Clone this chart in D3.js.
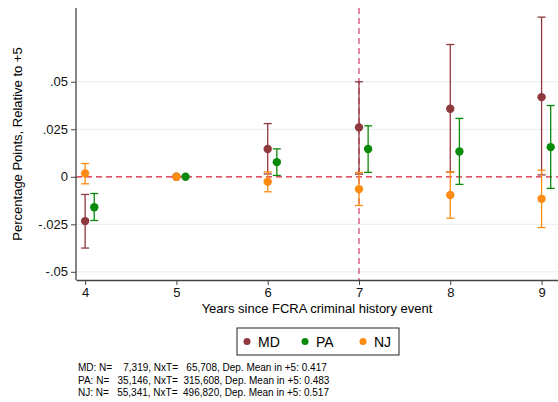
<!DOCTYPE html><html><head><script src="https://cdn.jsdelivr.net/npm/d3@7"></script>
<style>body{margin:0;background:#fff}text{font-family:"Liberation Sans",Arial,sans-serif}</style></head><body>
<svg id="c" width="558" height="402"></svg>
<script>
const years=[4,5,6,7,8,9];
const mdEst=[-0.0233,0,0.0146,0.026,0.0358,0.0419];
const mdLo=[-0.0375,null,0.0015,0.0014,0.0025,0.001];
const mdHi=[-0.0093,null,0.028,0.05,0.0696,0.084];
const paEst=[-0.016,0,0.0077,0.0146,0.0133,0.0156];
const paLo=[-0.023,null,0.0007,0.0023,-0.004,-0.0061];
const paHi=[-0.0088,null,0.0147,0.0268,0.0307,0.0375];
const njEst=[0.0018,0,-0.0026,-0.0065,-0.0096,-0.0116];
const njLo=[-0.0037,null,-0.0079,-0.0151,-0.0218,-0.0267];
const njHi=[0.007,null,0.0026,0.0023,0.0026,0.0035];
const yTicks=[0.05,0.025,0,-0.025,-0.05];
const yTickLabels=[".05",".025","0","-.025","-.05"];
const notes=["MD: N=    7,319, NxT=   65,708, Dep. Mean in +5: 0.417","PA: N=   35,146, NxT=  315,608, Dep. Mean in +5: 0.483","NJ: N=   55,341, NxT=  496,820, Dep. Mean in +5: 0.517"];
const series=[
 {name:"MD",color:"#8f383d",est:mdEst,lo:mdLo,hi:mdHi,off:0},
 {name:"PA",color:"#0a8a0a",est:paEst,lo:paLo,hi:paHi,off:0.1},
 {name:"NJ",color:"#ff8c12",est:njEst,lo:njLo,hi:njHi,off:0}];
const svg=d3.select("#c");
const x=d3.scaleLinear().domain([3.9,9.18]).range([76,558]);
const y=d3.scaleLinear().domain([-0.0543,0.0888]).range([280,8]);
svg.append("g").selectAll("line").data(yTicks.filter(d=>d!==0)).join("line")
 .attr("x1",76).attr("x2",558).attr("y1",d=>y(d)).attr("y2",d=>y(d)).attr("stroke","#e6eded").attr("stroke-width",1);
svg.append("line").attr("x1",x(7)).attr("x2",x(7)).attr("y1",8).attr("y2",280).attr("stroke","#cc4a78").attr("stroke-width",1.3).attr("stroke-dasharray","6,4");
svg.append("line").attr("x1",76).attr("x2",558).attr("y1",y(0)).attr("y2",y(0)).attr("stroke","#d81e3c").attr("stroke-width",1.3).attr("stroke-dasharray","6,4");
series.forEach(s=>{
 const g=svg.append("g");
 years.forEach((yr,i)=>{
  const cx=x(yr+s.off);
  if(s.lo[i]!==null){
   g.append("line").attr("x1",cx).attr("x2",cx).attr("y1",y(s.lo[i])).attr("y2",y(s.hi[i])).attr("stroke",s.color).attr("stroke-width",1.3);
   [s.lo[i],s.hi[i]].forEach(v=>g.append("line").attr("x1",cx-4).attr("x2",cx+4).attr("y1",y(v)).attr("y2",y(v)).attr("stroke",s.color).attr("stroke-width",1.3));
  }
  g.append("circle").attr("cx",cx).attr("cy",y(s.est[i])).attr("r",4.2).attr("fill",s.color);
 });
});
const ya=svg.append("g").attr("transform","translate(76,0)").call(d3.axisLeft(y).tickValues(yTicks).tickFormat((d,i)=>yTickLabels[i]).tickSize(5).tickSizeOuter(0));
const xa=svg.append("g").attr("transform","translate(0,280)").call(d3.axisBottom(x).tickValues(years).tickFormat(d3.format("d")).tickSize(5).tickSizeOuter(0));
[ya,xa].forEach(a=>{a.select(".domain").attr("stroke","#444").attr("stroke-width",1.3);a.selectAll(".tick line").attr("stroke","#444");a.selectAll("text").attr("font-size",13).attr("fill","#111").attr("font-family","Liberation Sans, Arial, sans-serif");});
ya.select(".domain").attr("d","M0,8V280");
svg.append("text").attr("x",317).attr("y",313).attr("text-anchor","middle").attr("font-size",13).text("Years since FCRA criminal history event");
svg.append("text").attr("transform","translate(22,144) rotate(-90)").attr("text-anchor","middle").attr("font-size",13).text("Percentage Points, Relative to +5");
const lg=svg.append("g");
lg.append("rect").attr("x",237).attr("y",328).attr("width",162).attr("height",27).attr("fill","#fff").attr("stroke","#222").attr("stroke-width",1);
series.forEach((s,i)=>{const lx=247+i*58;lg.append("circle").attr("cx",lx).attr("cy",341.5).attr("r",3.5).attr("fill",s.color);
 lg.append("text").attr("x",lx+11).attr("y",347).attr("font-size",14).text(s.name);});
svg.append("g").selectAll("text").data(notes).join("text").attr("x",78).attr("y",(d,i)=>371+i*12.5).attr("font-size",10).attr("xml:space","preserve").style("white-space","pre").text(d=>d);
</script></body></html>
